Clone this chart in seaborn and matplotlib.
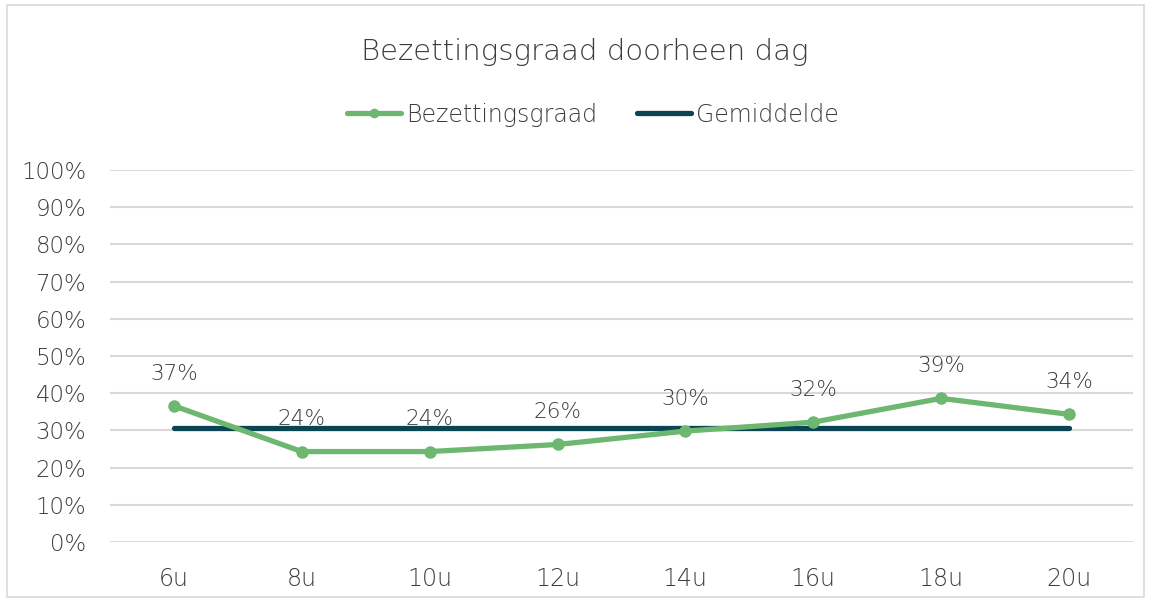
import matplotlib
matplotlib.use("Agg")
import matplotlib.pyplot as plt
import seaborn as sns
import pandas as pd
import numpy as np
from matplotlib.lines import Line2D

categories = ["6u", "8u", "10u", "12u", "14u", "16u", "18u", "20u"]
bezetting = [0.366, 0.243, 0.243, 0.262, 0.298, 0.322, 0.386, 0.343]
gemiddelde = [0.306] * 8
y_ticks = [i / 10 for i in range(11)]

sns.set_theme(style="white")
plt.rcParams["font.family"] = ["DejaVu Sans"]
plt.rcParams["font.weight"] = "light"

GREEN = "#6db770"
DARK = "#0b4452"
TEXT = "#3c3c3c"
GRID = "#d9d9d9"

df = pd.DataFrame({"x": np.arange(len(categories)), "Bezettingsgraad": bezetting,
                   "Gemiddelde": gemiddelde})

fig = plt.figure(figsize=(11.49, 6.03), dpi=100)
ax = fig.add_axes([0.0957, 0.1012, 0.8903, 0.617])

sns.lineplot(data=df, x="x", y="Gemiddelde", ax=ax, color=DARK, linewidth=3.8,
             solid_capstyle="round", zorder=2)
sns.lineplot(data=df, x="x", y="Bezettingsgraad", ax=ax, color=GREEN, linewidth=3.8,
             marker="o", markersize=9, markeredgewidth=0, zorder=3)

for i, v in enumerate(bezetting):
    ax.annotate(f"{round(v * 100):.0f}%", (i, v), xytext=(0, 16), textcoords="offset points",
                ha="center", va="bottom", fontsize=15.5, color=TEXT, zorder=1)

ax.set_xlim(-0.5, len(categories) - 0.5)
ax.set_ylim(0, 1)
ax.set_yticks(y_ticks)
ax.set_yticklabels([f"{int(t * 100)}%" for t in y_ticks], fontsize=16.5, color=TEXT)
ax.set_xticks(np.arange(len(categories)))
ax.set_xticklabels(categories, fontsize=17, color=TEXT)
ax.tick_params(axis="y", length=0, pad=17)
ax.tick_params(axis="x", length=0, pad=18)
ax.set_xlabel("")
ax.set_ylabel("")
ax.grid(axis="y", color=GRID, linewidth=1.5)
ax.set_axisbelow(True)
for s in ax.spines.values():
    s.set_visible(False)

fig.text(0.509, 0.914, "Bezettingsgraad doorheen dag", ha="center", va="center",
         fontsize=21, color=TEXT)

handles = [Line2D([0], [0], color=GREEN, lw=3.8, marker="o", markersize=7,
                  markeredgewidth=0, solid_capstyle="round"),
           Line2D([0], [0], color=DARK, lw=3.8, solid_capstyle="round")]
fig.legend(handles, ["Bezettingsgraad", "Gemiddelde"], loc="center",
           bbox_to_anchor=(0.516, 0.81), ncol=2, frameon=False, fontsize=17,
           labelcolor=TEXT, handlelength=2.3, handletextpad=0.2, columnspacing=1.7)

border = plt.Rectangle((0.006, 0.01), 0.99, 0.982, transform=fig.transFigure,
                       fill=False, edgecolor="#d9d9d9", linewidth=1.2)
fig.add_artist(border)

fig.savefig("out.png", dpi=100)
